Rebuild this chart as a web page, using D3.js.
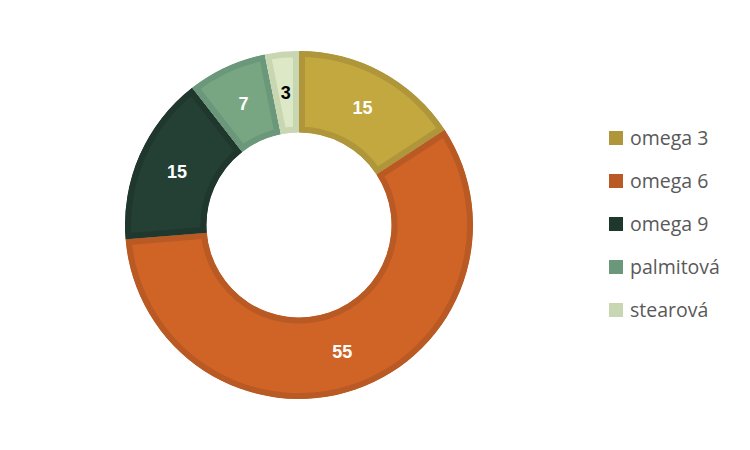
<!DOCTYPE html>
<html><head><meta charset="utf-8">
<script src="https://cdn.jsdelivr.net/npm/d3@7"></script>
<style>body{margin:0;background:#fff}</style>
</head><body>
<svg id="c" width="750" height="450"></svg>
<script>
const categories = ["omega 3","omega 6","omega 9","palmitová","stearová"];
const values = [15,55,15,7,3];
const fills = ["#C2A83F","#CF6426","#243F33","#78A682","#DDE9C6"];
const borders = ["#B0963A","#B95A24","#1F372C","#6B977A","#C8D7B1"];
const labelColors = ["#fff","#fff","#fff","#fff","#000"];

const svg = d3.select("#c");
const cx = 299, cy = 225, R = 174, r0 = 92.5;
const pie = d3.pie().sort(null).value(d=>d)(values);
const arc = d3.arc().innerRadius(r0).outerRadius(R);
const g = svg.append("g").attr("transform",`translate(${cx},${cy})`);
const defs = svg.append("defs");
pie.forEach((p,i)=>{
  defs.append("clipPath").attr("id","cl"+i).append("path").attr("d",arc(p));
});
g.selectAll("path.s").data(pie).join("path").attr("class","s")
  .attr("d",arc).attr("fill",(d,i)=>fills[i])
  .attr("stroke",(d,i)=>borders[i]).attr("stroke-width",12)
  .attr("clip-path",(d,i)=>`url(#cl${i})`);
const lab = d3.arc().innerRadius((R+r0)/2).outerRadius((R+r0)/2);
g.selectAll("text").data(pie).join("text")
  .attr("transform",d=>`translate(${lab.centroid(d)})`)
  .attr("text-anchor","middle").attr("dy","0.36em")
  .attr("font-family","Liberation Sans, Arial, sans-serif")
  .attr("font-weight","bold").attr("font-size",18)
  .attr("fill",(d,i)=>labelColors[i]).text(d=>d.data);

const y = d3.scalePoint().domain(categories).range([138,310]);
const lg = svg.append("g");
lg.selectAll("rect").data(categories).join("rect")
  .attr("x",609).attr("y",d=>y(d)-7).attr("width",14).attr("height",14)
  .attr("fill",(d,i)=>borders[i]);
lg.selectAll("text").data(categories).join("text")
  .attr("x",630).attr("y",d=>y(d)).attr("dy","0.36em")
  .attr("font-family","Open Sans, Liberation Sans, sans-serif").attr("font-size",19.5)
  .attr("fill","#595959").text(d=>d);
</script>
</body></html>
